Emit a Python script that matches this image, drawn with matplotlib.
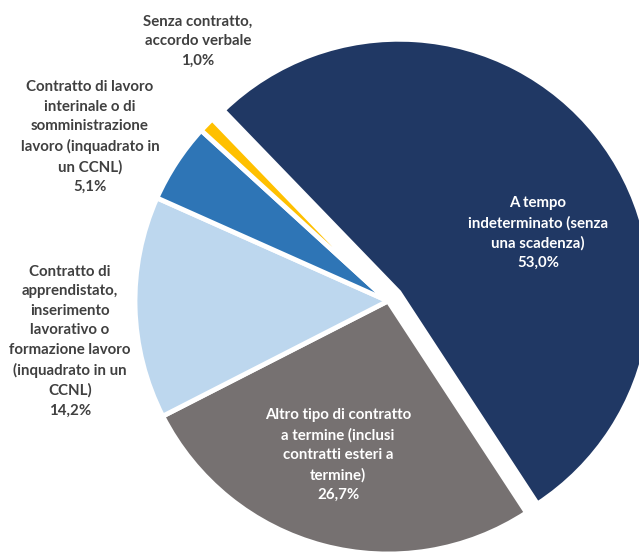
import matplotlib.pyplot as plt
import numpy as np

# contract type shares (%), drawn clockwise
labels = [
    'A tempo\nindeterminato (senza\nuna scadenza)',
    'Altro tipo di contratto\na termine (inclusi\ncontratti esteri a\ntermine)',
    'Contratto di\napprendistato,\ninserimento\nlavorativo o\nformazione lavoro\n(inquadrato in un\nCCNL)',
    'Contratto di lavoro\ninterinale o di\nsomministrazione\nlavoro (inquadrato in\nun CCNL)',
    'Senza contratto,\naccordo verbale',
]
shares = [53.0, 26.7, 14.2, 5.1, 1.0]
colours = ['#203864', '#767171', '#BDD7EE', '#2E75B6', '#FFC000']

# label anchor points (pixels from top-left) and text colour
label_pos = [(538, 233), (338, 455), (70, 341), (90, 137), (198, 41)]
label_col = ['white', 'white', '#404040', '#404040', '#404040']

W, H = 639, 553
fig = plt.figure(figsize=(W / 100, H / 100), dpi=100)
ax = fig.add_axes([0, 0, 1, 1])

cx, cy, r = 388, H - 301, 253
# pie works in pixel-sized data units here, so explode is an offset in px
explode = [14, 0, 0, 0, 0]
ax.pie(shares, colors=colours, explode=explode, startangle=134,
       counterclock=False, center=(cx, cy), radius=r, frame=True,
       wedgeprops=dict(edgecolor='white', linewidth=3.5))
ax.set_xlim(0, W)
ax.set_ylim(0, H)
ax.set_aspect('equal')
ax.axis('off')

for lab, val, (x, y), c in zip(labels, shares, label_pos, label_col):
    txt = lab + '\n' + f'{val:.1f}%'.replace('.', ',')
    ax.text(x, H - y, txt, ha='center', va='center', color=c,
            fontsize=10.8, fontweight='bold', family=['Lato', 'DejaVu Sans'],
            linespacing=1.5)

fig.savefig('out.png', dpi=100)
